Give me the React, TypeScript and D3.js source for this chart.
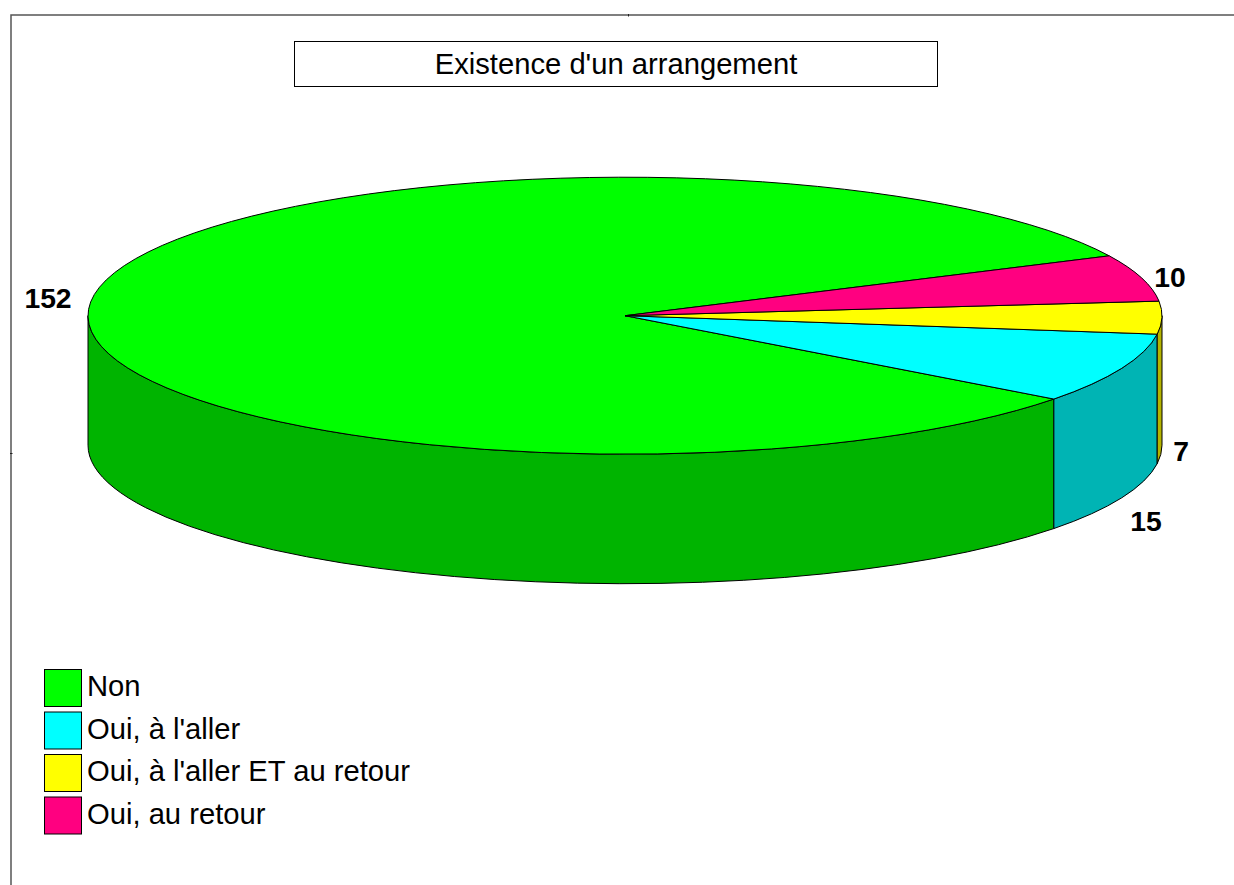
import React from "react";
import * as d3 from "d3";

const categories = ["Non", "Oui, à l'aller", "Oui, à l'aller ET au retour", "Oui, au retour"];
const values = [152, 15, 7, 10];
const topColors = ["#00FF00", "#00FFFF", "#FFFF00", "#FF0080"];
const sideColors = ["#00B400", "#00B4B4", "#B4B400", "#B4005A"];
const titleText = "Existence d'un arrangement";
const W = 1234, H = 885;
const cx = 625, cy = 315.7, rx = 537, ry = 138.5, depth = 129.5;
const deg = Math.PI / 180;
const labelPos: [number, number][] = [
  [48, 298], [1146, 521], [1181, 451], [1170, 277],
];

// Slices run counter-clockwise on screen; "Non" ends at the front right at 37 degrees.
const startDeg = 37 + (152 / 184) * 360;
const pie = d3.pie<number>().sort(null).startAngle(startDeg * deg).endAngle((startDeg - 360) * deg);
const arcs = pie(values).map((d) => ({ lo: Math.min(d.startAngle, d.endAngle), hi: Math.max(d.startAngle, d.endAngle) }));
const px = (t: number) => cx + rx * Math.cos(t);
const py = (t: number) => cy + ry * Math.sin(t);

function arcTo(a: number, b: number, dy = 0, sweep = 1) {
  const large = Math.abs(b - a) > Math.PI ? 1 : 0;
  return `A${rx} ${ry} 0 ${large} ${sweep} ${px(b)} ${py(b) + dy}`;
}
function topPath(a: number, b: number) {
  return `M${cx} ${cy}L${px(a)} ${py(a)}${arcTo(a, b)}Z`;
}
function sidePath(a: number, b: number) {
  return `M${px(a)} ${py(a)}${arcTo(a, b)}L${px(b)} ${py(b) + depth}${arcTo(b, a, depth, 0)}Z`;
}
// Only the front of the wall shows: screen angles between 0 and 180 degrees.
function visibleRange(a: number, b: number): [number, number] | null {
  const lo = Math.max(a, 0), hi = Math.min(b, Math.PI);
  return hi > lo ? [lo, hi] : null;
}

const legendY = d3.scalePoint<string>().domain(categories).range([669, 796.5]);
const FONT = "'Liberation Sans', Arial, sans-serif";

export default function App() {
  return (
    <svg width={W} height={H} viewBox={`0 0 ${W} ${H}`} style={{ position: "absolute", left: 0, top: 0, display: "block", background: "#fff" }}>
      <path d="M11 885V15H1234" fill="none" stroke="#555" strokeWidth={1.5} />
      <path d="M628.5 14V16.5M10 453.5H12.5" fill="none" stroke="#222" strokeWidth={1} />
      <rect x={294.5} y={41.5} width={643} height={45} fill="#fff" stroke="#000" strokeWidth={1} />
      <text x={616} y={74} textAnchor="middle" fontFamily={FONT} fontSize={29.2} fill="#000">{titleText}</text>

      {arcs.map((d, i) => {
        const r = visibleRange(d.lo, d.hi);
        return r ? <path key={"s" + i} d={sidePath(r[0], r[1])} fill={sideColors[i]} stroke="#000" strokeWidth={1} strokeLinejoin="round" /> : null;
      })}
      {arcs.map((d, i) => (
        <path key={"t" + i} d={topPath(d.lo, d.hi)} fill={topColors[i]} stroke="#000" strokeWidth={1} strokeLinejoin="round" />
      ))}

      {values.map((v, i) => (
        <text key={"l" + i} x={labelPos[i][0]} y={labelPos[i][1] + 10} textAnchor="middle" fontFamily={FONT} fontWeight="bold" fontSize={28.3} fill="#000">{v}</text>
      ))}

      {categories.map((c, i) => (
        <g key={c}>
          <rect x={44.5} y={(legendY(c) as number) + 0.5} width={37} height={37} fill={topColors[i]} stroke="#000" strokeWidth={1} />
          <text x={87} y={(legendY(c) as number) + 27} fontFamily={FONT} fontSize={29.2} fill="#000">{c}</text>
        </g>
      ))}
    </svg>
  );
}
